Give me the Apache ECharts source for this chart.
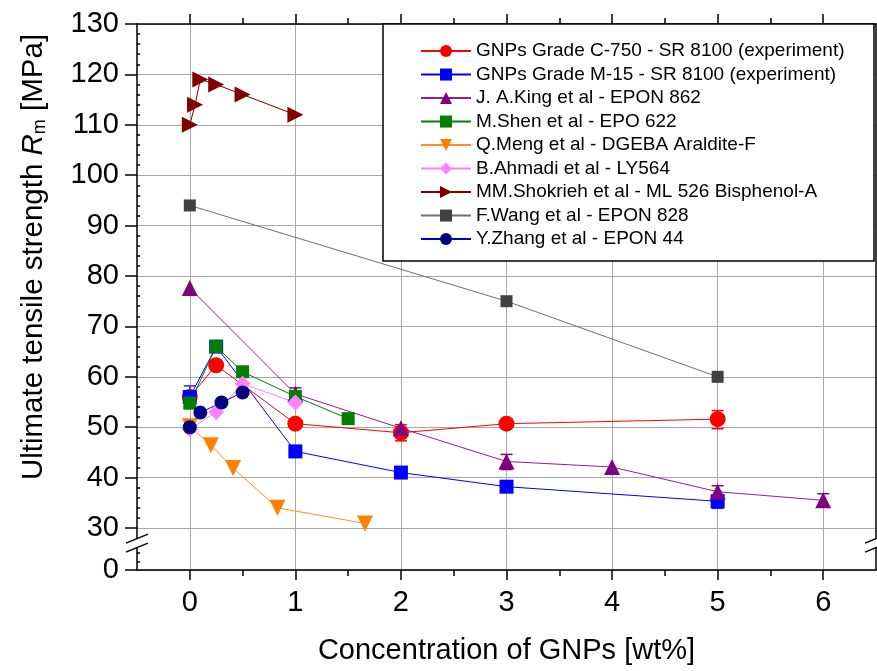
<!DOCTYPE html>
<html>
<head>
<meta charset="utf-8">
<script src="https://cdn.jsdelivr.net/npm/echarts@6/dist/echarts.min.js"></script>
<style>html,body{margin:0;padding:0;background:#fff}#c{width:877px;height:671px}</style>
</head>
<body>
<div id="c"></div>
<script>
// ---- data ----
var names = [
  'GNPs Grade C-750 - SR 8100 (experiment)',
  'GNPs Grade M-15 - SR 8100 (experiment)',
  'J. A.King et al - EPON 862',
  'M.Shen et al - EPO 622',
  'Q.Meng et al - DGEBA Araldite-F',
  'B.Ahmadi et al - LY564',
  'MM.Shokrieh et al - ML 526 Bisphenol-A',
  'F.Wang et al - EPON 828',
  'Y.Zhang et al - EPON 44'
];
var c750X = [0, 0.25, 1, 2, 3, 5];
var c750Y = [56, 62.3, 50.7, 48.9, 50.7, 51.6];
var m15X = [0, 0.25, 1, 2, 3, 5];
var m15Y = [56, 66, 45.2, 41, 38.2, 35.3];
var kingX = [0, 1, 2, 3, 4, 5, 6];
var kingY = [77.6, 56.6, 49.8, 43.2, 42.1, 37.2, 35.5];
var shenX = [0, 0.25, 0.5, 1, 1.5];
var shenY = [54.8, 66, 61, 56.1, 51.7];
var mengX = [0, 0.2, 0.41, 0.83, 1.66];
var mengY = [50.2, 46.4, 41.9, 34, 30.9];
var ahmadiX = [0, 0.25, 0.5, 1];
var ahmadiY = [49.6, 53, 58.6, 54.9];
var shokriehX = [0, 0.05, 0.1, 0.25, 0.5, 1];
var shokriehY = [110, 114, 119, 118, 116, 112];
var wangX = [0, 3, 5];
var wangY = [94, 75, 60];
var zhangX = [0, 0.1, 0.3, 0.5];
var zhangY = [50, 52.9, 54.9, 56.9];
// error bars
var errBlueX = [0, 2, 5], errBlueLo = [53.7, 40, 33.9], errBlueHi = [58.2, 42, 36.6];
var errRedX = [2, 5], errRedLo = [47.3, 49.7], errRedHi = [50.5, 53.3];
var errPurpleX = [1, 3, 5, 6], errPurpleLo = [55.6, 41.6, 35.8, 34.2], errPurpleHi = [57.8, 44.6, 38.4, 36.8];
// axis ticks (y axis is broken between 0 and 30)
var xMajor = [0, 1, 2, 3, 4, 5, 6];
var xMinor = [0.5, 1.5, 2.5, 3.5, 4.5, 5.5];
var Y_ZERO = 21.67; // position standing for "0" below the break
var yMajor = [Y_ZERO, 30, 40, 50, 60, 70, 80, 90, 100, 110, 120, 130];
var yMinor = [23.3,25,32,34,36,38,42,44,46,48,52,54,56,58,62,64,66,68,72,74,76,78,82,84,86,88,92,94,96,98,102,104,106,108,112,114,116,118,122,124,126,128];

var FONT = 'Liberation Sans, Arial, sans-serif';
function pairs(xs, ys) { return xs.map(function (x, i) { return [x, ys[i]]; }); }
function errData(xs, lo, hi) { return xs.map(function (x, i) { return [x, lo[i], hi[i]]; }); }

function errSeries(xs, lo, hi, color) {
  return {
    type: 'custom', xAxisIndex: 0, yAxisIndex: 0, silent: true,
    data: errData(xs, lo, hi),
    renderItem: function (params, api) {
      var x = api.value(0);
      var p1 = api.coord([x, api.value(1)]);
      var p2 = api.coord([x, api.value(2)]);
      var st = { stroke: color, lineWidth: 1.5 };
      return { type: 'group', children: [
        { type: 'line', shape: { x1: p1[0], y1: p1[1], x2: p2[0], y2: p2[1] }, style: st },
        { type: 'line', shape: { x1: p1[0] - 6, y1: p1[1], x2: p1[0] + 6, y2: p1[1] }, style: st },
        { type: 'line', shape: { x1: p2[0] - 6, y1: p2[1], x2: p2[0] + 6, y2: p2[1] }, style: st }
      ]};
    }
  };
}

function lineSeries(name, xs, ys, symbol, size, color, lineColor, rotate) {
  return {
    name: name, type: 'line', xAxisIndex: 0, yAxisIndex: 0,
    data: pairs(xs, ys), symbol: symbol, symbolSize: size, symbolRotate: rotate || 0,
    showAllSymbol: true,
    lineStyle: { color: lineColor || color, width: 1 },
    itemStyle: { color: color, borderWidth: 0 },
    emphasis: { disabled: true },
    animation: false
  };
}

var chart = echarts.init(document.getElementById('c'), null, { renderer: 'canvas' });
var axisLine = { show: true, onZero: false, lineStyle: { color: '#000', width: 1.5 } };
var noLine = { show: false, onZero: false };
var option = {
  animation: false,
  backgroundColor: '#fff',
  textStyle: { fontFamily: FONT },
  grid: { left: 137, right: 1, top: 24, bottom: 101 },
  legend: {
    orient: 'vertical', left: 415, top: 34.3, z: 10, padding: 5,
    itemWidth: 50, itemHeight: 15, itemGap: 0,
    textStyle: { fontFamily: FONT, fontSize: 19, color: '#000', lineHeight: 23.5 },
    data: names, selectedMode: false
  },
  xAxis: [
    { type: 'value', min: -0.5, max: 6.5, position: 'bottom', axisLine: axisLine,
      axisTick: { show: true, inside: false, length: 10, customValues: xMajor, lineStyle: { color: '#000', width: 1.5 } },
      axisLabel: { customValues: xMajor, fontSize: 29, color: '#000', margin: 18, fontFamily: FONT },
      splitLine: { show: true, lineStyle: { color: '#a8a8a8', width: 1 } },
      name: 'Concentration of GNPs [wt%]', nameLocation: 'middle', nameGap: 66,
      nameTextStyle: { fontSize: 29, color: '#000', fontFamily: FONT } },
    { type: 'value', min: -0.5, max: 6.5, position: 'bottom', axisLine: noLine,
      axisTick: { show: true, length: 6, customValues: xMinor, lineStyle: { color: '#000', width: 1.5 } },
      axisLabel: { show: false }, splitLine: { show: false } },
    { type: 'value', min: -0.5, max: 6.5, position: 'top', axisLine: axisLine,
      axisTick: { show: true, length: 10, customValues: xMajor, lineStyle: { color: '#000', width: 1.5 } },
      axisLabel: { show: false }, splitLine: { show: false } },
    { type: 'value', min: -0.5, max: 6.5, position: 'top', axisLine: noLine,
      axisTick: { show: true, length: 6, customValues: xMinor, lineStyle: { color: '#000', width: 1.5 } },
      axisLabel: { show: false }, splitLine: { show: false } }
  ],
  yAxis: [
    { type: 'value', min: Y_ZERO, max: 130, position: 'left', axisLine: axisLine,
      axisTick: { show: true, length: 12, customValues: yMajor, lineStyle: { color: '#000', width: 1.5 } },
      axisLabel: { customValues: yMajor, fontSize: 29, color: '#000', margin: 18, fontFamily: FONT,
        formatter: function (v) { return v < 29 ? '0' : String(Math.round(v)); } },
      splitLine: { show: true, lineStyle: { color: '#a8a8a8', width: 1 } },
      name: 'Ultimate tensile strength {i|R}{s|m} [MPa]', nameLocation: 'middle', nameGap: 88, nameRotate: 90,
      nameTextStyle: { fontSize: 29.5, color: '#000', fontFamily: FONT, padding: [0, 0, 0, 80],
        rich: { i: { fontSize: 29.5, fontStyle: 'italic', fontFamily: FONT, color: '#000' },
                s: { fontSize: 18, fontFamily: FONT, color: '#000', padding: [12, 0, 0, 0] } } } },
    { type: 'value', min: Y_ZERO, max: 130, position: 'left', axisLine: noLine,
      axisTick: { show: true, inside: true, length: 3, customValues: yMinor, lineStyle: { color: '#000', width: 1.5 } },
      axisLabel: { show: false }, splitLine: { show: false } },
    { type: 'value', min: Y_ZERO, max: 130, position: 'right', axisLine: axisLine,
      axisTick: { show: false }, axisLabel: { show: false }, splitLine: { show: false } }
  ],
  series: [
    errSeries(errBlueX, errBlueLo, errBlueHi, '#3030d0'),
    errSeries(errRedX, errRedLo, errRedHi, '#ff0000'),
    errSeries(errPurpleX, errPurpleLo, errPurpleHi, '#800080'),
    lineSeries(names[0], c750X, c750Y, 'circle', 16, '#ff0000'),
    lineSeries(names[1], m15X, m15Y, 'rect', 14, '#0000ff'),
    lineSeries(names[2], kingX, kingY, 'triangle', 16, '#800080', '#902090'),
    lineSeries(names[3], shenX, shenY, 'rect', 13, '#008000'),
    lineSeries(names[4], mengX, mengY, 'triangle', 16, '#ff8000', '#ff9020', 180),
    lineSeries(names[5], ahmadiX, ahmadiY, 'diamond', 16, '#ff80ff'),
    lineSeries(names[6], shokriehX, shokriehY, 'triangle', 16, '#800000', '#800000', -90),
    lineSeries(names[7], wangX, wangY, 'rect', 12, '#404040', '#707070'),
    lineSeries(names[8], zhangX, zhangY, 'circle', 14, '#000080', '#0000c0')
  ]
};
chart.setOption(option);

// decorations: legend frame and axis break marks
function breakMark(px, cy) {
  var st = { stroke: '#000', lineWidth: 1.5 };
  return [
    { type: 'rect', z: 20, shape: { x: px - 3, y: cy - 4.5, width: 6, height: 9 }, style: { fill: '#fff' } },
    { type: 'line', z: 21, shape: { x1: px - 11, y1: cy, x2: px + 11, y2: cy - 9 }, style: st },
    { type: 'line', z: 21, shape: { x1: px - 11, y1: cy + 9, x2: px + 11, y2: cy }, style: st }
  ];
}
var pL = chart.convertToPixel({ xAxisIndex: 0, yAxisIndex: 0 }, [-0.5, 27]);
var pR = chart.convertToPixel({ xAxisIndex: 0, yAxisIndex: 0 }, [6.5, 27]);
var g = [
  { type: 'rect', z: 5, shape: { x: 383, y: 24, width: 491, height: 237 },
    style: { fill: '#fff', stroke: '#000', lineWidth: 1.5 } }
].concat(breakMark(pL[0], pL[1])).concat(breakMark(pR[0], pR[1]));
chart.setOption({ graphic: g });
</script>
</body>
</html>
